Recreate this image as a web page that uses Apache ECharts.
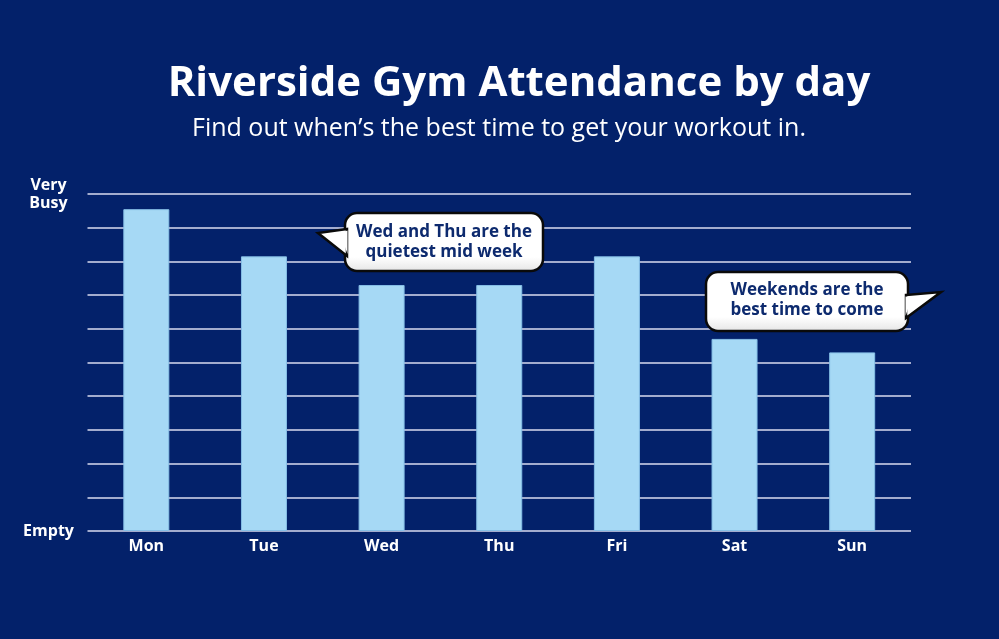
<!DOCTYPE html>
<html>
<head>
<meta charset="utf-8">
<style>
  html, body { margin: 0; padding: 0; background: #03216a; }
  #chart { width: 999px; height: 639px; }
</style>
<script src="https://cdn.jsdelivr.net/npm/echarts@6/dist/echarts.min.js"></script>
</head>
<body>
<div id="chart"></div>
<script>
// ---- data ----
const days = ['Mon', 'Tue', 'Wed', 'Thu', 'Fri', 'Sat', 'Sun'];
const attendance = [9.55, 8.15, 7.3, 7.3, 8.15, 5.7, 5.3];
const yLabelLow = 'Empty';
const yLabelHigh = 'Very\nBusy';
const titleText = 'Riverside Gym Attendance by day';
const subtitleText = 'Find out when\u2019s the best time to get your workout in.';
const note1 = 'Wed and Thu are the\nquietest mid week';
const note2 = 'Weekends are the\nbest time to come';

const chart = echarts.init(document.getElementById('chart'), null, { renderer: 'canvas' });

const FONT = 'Open Sans';
const bubbleFill = {
  type: 'linear', x: 0, y: 0, x2: 0, y2: 1,
  colorStops: [{ offset: 0, color: '#ffffff' }, { offset: 0.75, color: '#ffffff' }, { offset: 1, color: '#e4e4e4' }]
};
const noteStyle = {
  fill: '#0d2a6e', fontFamily: FONT, fontWeight: 'bold', fontSize: 17,
  lineHeight: 20, align: 'center', verticalAlign: 'middle'
};
const stroke = { stroke: '#0a0a0a', lineWidth: 2.5 };

function bubble(rect, tail, cover) {
  return [
    { type: 'rect', z: 100, shape: { x: rect[0], y: rect[1], width: rect[2], height: rect[3], r: 12 },
      style: Object.assign({ fill: bubbleFill }, stroke) },
    { type: 'polygon', z: 101, shape: { points: tail }, style: Object.assign({ fill: '#ffffff' }, stroke) },
    { type: 'polygon', z: 102, shape: { points: cover }, style: { fill: '#ffffff' } }
  ];
}

const option = {
  backgroundColor: '#03216a',
  animation: false,
  grid: { left: 87.5, right: 88, top: 194, bottom: 108 },
  xAxis: {
    type: 'category',
    data: days,
    axisLine: { show: false },
    axisTick: { show: false },
    axisLabel: { color: '#ffffff', fontFamily: FONT, fontWeight: 'bold', fontSize: 16, margin: 7 }
  },
  yAxis: {
    type: 'value',
    min: 0, max: 10, interval: 1,
    axisLine: { show: false },
    axisTick: { show: false },
    splitLine: { lineStyle: { color: '#a3acce', width: 2 } },
    axisLabel: {
      color: '#ffffff', fontFamily: FONT, fontWeight: 'bold', fontSize: 16, lineHeight: 18,
      align: 'center', margin: 39,
      formatter: function (v) { return v === 0 ? yLabelLow : (v === 10 ? yLabelHigh : ''); }
    }
  },
  series: [{
    type: 'bar',
    data: attendance,
    barWidth: 46,
    itemStyle: { color: '#a6d9f5', borderColor: '#86bfe6', borderWidth: 1 }
  }],
  graphic: [
    {
      type: 'text', x: 519, y: 84,
      style: { text: titleText, fill: '#ffffff', fontFamily: FONT, fontWeight: 'bold', fontSize: 42, align: 'center', verticalAlign: 'middle' }
    },
    {
      type: 'text', x: 499, y: 129,
      style: { text: subtitleText, fill: '#ffffff', fontFamily: FONT, fontWeight: 'normal', fontSize: 25, align: 'center', verticalAlign: 'middle' }
    }
  ].concat(
    bubble([345, 213, 198, 58], [[347, 229], [318, 233], [347, 256]], [[347.5, 230.5], [340, 233], [347.5, 254]]),
    [{ type: 'text', x: 444, y: 242, z: 110, style: Object.assign({ text: note1 }, noteStyle) }],
    bubble([706, 272, 202, 59], [[906, 295], [941, 292], [906, 318]], [[905.5, 296.5], [912, 297], [905.5, 316]]),
    [{ type: 'text', x: 807, y: 300, z: 110, style: Object.assign({ text: note2 }, noteStyle) }]
  )
};
chart.setOption(option);
</script>
</body>
</html>
